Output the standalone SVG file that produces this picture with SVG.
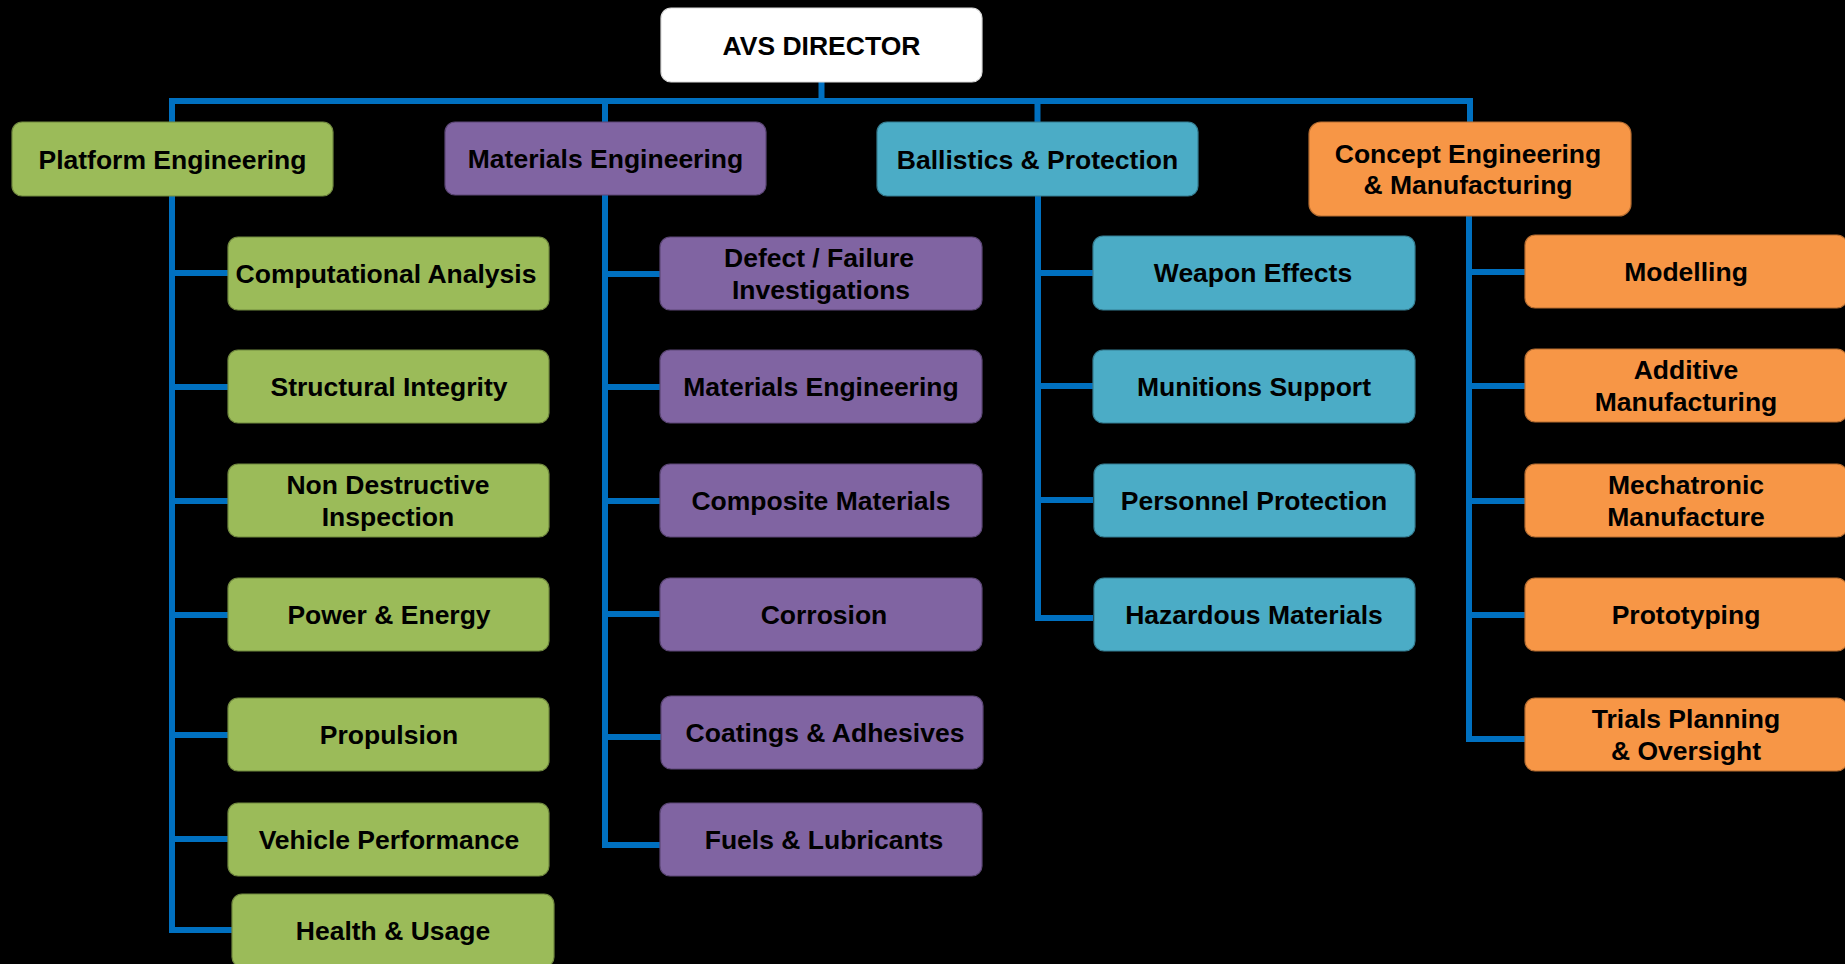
<svg xmlns="http://www.w3.org/2000/svg" width="1845" height="964" viewBox="0 0 1845 964">
<style>
.bg{fill:#000}
.box{stroke-width:1.2}
.w{fill:#FFFFFF;stroke:#D9D9D9}
.g{fill:#9BBB59;stroke:#71893F}
.p{fill:#8064A2;stroke:#5C4776}
.t{fill:#4BACC6;stroke:#357D91}
.o{fill:#F79646;stroke:#B66D31}
text{font-family:"Liberation Sans",Arial,sans-serif;font-weight:bold;font-size:26.5px;fill:#000;text-anchor:middle}
.c{fill:none;stroke:#0070C0;stroke-width:6}
</style>
<rect class="bg" x="0" y="0" width="1845" height="964"/>
<g id="connectors">
<path class="c" d="M821.5,82 V101 M169,101 H1473 M172,101 V122 M605,101 V122 M1037.5,101 V122 M1470,101 V122"/>
<path class="c" d="M172,196 V933 M172,273 H228 M172,387 H228 M172,501 H228 M172,615 H228 M172,735 H228 M172,839 H228 M169,930 H232"/>
<path class="c" d="M605,195 V848 M605,274 H660 M605,387 H660 M605,501 H660 M605,614 H660 M605,737 H661 M602,845 H660"/>
<path class="c" d="M1038,196 V621 M1038,273 H1093 M1038,386 H1093 M1038,500 H1093 M1035,618 H1093"/>
<path class="c" d="M1469,216 V742 M1469,272 H1525 M1469,386 H1525 M1469,501 H1525 M1469,615 H1525 M1466,739 H1525"/>
</g>
<g id="avs-director"><rect class="box w" x="661" y="8" width="321" height="74" rx="10"/><text x="821.5" y="54.5">AVS DIRECTOR</text></g>
<g id="platform-engineering"><rect class="box g" x="12" y="122" width="321" height="74" rx="10"/><text x="172.5" y="168.5">Platform Engineering</text></g>
<g id="materials-engineering"><rect class="box p" x="445" y="122" width="321" height="73" rx="10"/><text x="605.5" y="168">Materials Engineering</text></g>
<g id="ballistics-protection"><rect class="box t" x="877" y="122" width="321" height="74" rx="10"/><text x="1037.5" y="168.5">Ballistics &amp; Protection</text></g>
<g id="concept-engineering"><rect class="box o" x="1309" y="122" width="322" height="94" rx="12"/><text x="1468" y="163">Concept Engineering</text><text x="1468" y="194">&amp; Manufacturing</text></g>

<g id="computational-analysis"><rect class="box g" x="228" y="237" width="321" height="73" rx="10"/><text x="386" y="283">Computational Analysis</text></g>
<g id="structural-integrity"><rect class="box g" x="228" y="350" width="321" height="73" rx="10"/><text x="389" y="396">Structural Integrity</text></g>
<g id="non-destructive-inspection"><rect class="box g" x="228" y="464" width="321" height="73" rx="10"/><text x="388" y="494">Non Destructive</text><text x="388" y="526">Inspection</text></g>
<g id="power-energy"><rect class="box g" x="228" y="578" width="321" height="73" rx="10"/><text x="389" y="624">Power &amp; Energy</text></g>
<g id="propulsion"><rect class="box g" x="228" y="698" width="321" height="73" rx="10"/><text x="389" y="744">Propulsion</text></g>
<g id="vehicle-performance"><rect class="box g" x="228" y="803" width="321" height="73" rx="10"/><text x="389" y="849">Vehicle Performance</text></g>
<g id="health-usage"><rect class="box g" x="232" y="894" width="322" height="73" rx="10"/><text x="393" y="940">Health &amp; Usage</text></g>

<g id="defect-failure"><rect class="box p" x="660" y="237" width="322" height="73" rx="10"/><text x="819" y="267">Defect / Failure</text><text x="821" y="299">Investigations</text></g>
<g id="materials-engineering-2"><rect class="box p" x="660" y="350" width="322" height="73" rx="10"/><text x="821" y="396">Materials Engineering</text></g>
<g id="composite-materials"><rect class="box p" x="660" y="464" width="322" height="73" rx="10"/><text x="821" y="510">Composite Materials</text></g>
<g id="corrosion"><rect class="box p" x="660" y="578" width="322" height="73" rx="10"/><text x="824" y="624">Corrosion</text></g>
<g id="coatings-adhesives"><rect class="box p" x="661" y="696" width="322" height="73" rx="10"/><text x="825" y="742">Coatings &amp; Adhesives</text></g>
<g id="fuels-lubricants"><rect class="box p" x="660" y="803" width="322" height="73" rx="10"/><text x="824" y="849">Fuels &amp; Lubricants</text></g>

<g id="weapon-effects"><rect class="box t" x="1093" y="236" width="322" height="74" rx="10"/><text x="1253" y="282">Weapon Effects</text></g>
<g id="munitions-support"><rect class="box t" x="1093" y="350" width="322" height="73" rx="10"/><text x="1254" y="396">Munitions Support</text></g>
<g id="personnel-protection"><rect class="box t" x="1094" y="464" width="321" height="73" rx="10"/><text x="1254" y="510">Personnel Protection</text></g>
<g id="hazardous-materials"><rect class="box t" x="1094" y="578" width="321" height="73" rx="10"/><text x="1254" y="624">Hazardous Materials</text></g>

<g id="modelling"><rect class="box o" x="1525" y="235" width="322" height="73" rx="10"/><text x="1686" y="281">Modelling</text></g>
<g id="additive-manufacturing"><rect class="box o" x="1525" y="349" width="322" height="73" rx="10"/><text x="1686" y="379">Additive</text><text x="1686" y="411">Manufacturing</text></g>
<g id="mechatronic-manufacture"><rect class="box o" x="1525" y="464" width="322" height="73" rx="10"/><text x="1686" y="494">Mechatronic</text><text x="1686" y="526">Manufacture</text></g>
<g id="prototyping"><rect class="box o" x="1525" y="578" width="322" height="73" rx="10"/><text x="1686" y="624">Prototyping</text></g>
<g id="trials-planning"><rect class="box o" x="1525" y="698" width="322" height="73" rx="10"/><text x="1686" y="728">Trials Planning</text><text x="1686" y="760">&amp; Oversight</text></g>
</svg>
